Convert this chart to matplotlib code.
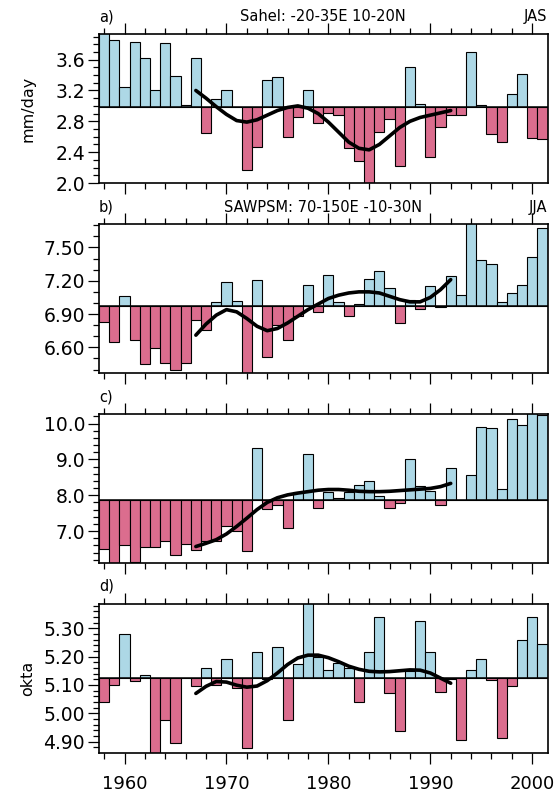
import numpy as np
import matplotlib
matplotlib.use('Agg')
from matplotlib import pyplot as plt
from matplotlib.ticker import MultipleLocator, FormatStrFormatter

years = np.arange(1958, 2002)
smooth_years = np.arange(1967, 1993)

# a) Sahel JAS rainfall (mm/day)
sahel = [3.95, 3.85,
         3.24, 3.83, 3.62, 3.21, 3.81, 3.385, 3.01, 3.615, 2.655, 3.09,
         3.20, 2.99, 2.175, 2.47, 3.335, 3.37, 2.595, 2.855, 3.21, 2.78,
         2.91, 2.88, 2.45, 2.29, 1.98, 2.66, 2.83, 2.225, 3.51, 3.02,
         2.34, 2.73, 2.88, 2.88, 3.705, 3.01, 2.635, 2.53, 3.15, 3.41,
         2.585, 2.575]
sahel_base = 2.988
sahel_smooth = [3.20, 3.10, 2.99, 2.89, 2.81, 2.79, 2.82, 2.88, 2.94, 2.98,
                3.00, 2.97, 2.90, 2.79, 2.66, 2.53, 2.45, 2.43, 2.50, 2.61,
                2.72, 2.80, 2.85, 2.88, 2.91, 2.94]

# b) SAWPSM JJA
sawpsm = [6.825, 6.65,
          7.065, 6.67, 6.45, 6.59, 6.455, 6.395, 6.46, 6.845, 6.76, 7.005,
          7.185, 7.015, 6.35, 7.205, 6.51, 6.805, 6.67, 6.88, 7.165, 6.92,
          7.255, 7.01, 6.88, 6.99, 7.22, 7.285, 7.135, 6.82, 7.03, 6.945,
          7.155, 6.96, 7.24, 7.075, 7.72, 7.39, 7.355, 7.01, 7.09, 7.165,
          7.41, 7.675]
sawpsm_base = 6.972
sawpsm_smooth = [6.71, 6.81, 6.89, 6.94, 6.92, 6.86, 6.79, 6.75, 6.77, 6.82,
                 6.88, 6.94, 6.99, 7.04, 7.07, 7.09, 7.10, 7.10, 7.09, 7.06,
                 7.03, 7.01, 7.01, 7.05, 7.12, 7.21]

# c)
pc = [6.51, 6.10,
      6.61, 6.15, 6.545, 6.565, 6.72, 6.345, 6.63, 6.465, 6.73, 6.715,
      7.15, 6.99, 6.435, 9.305, 7.63, 7.72, 7.075, 8.095, 9.155, 7.64,
      8.085, 7.915, 8.10, 8.295, 8.405, 7.99, 7.64, 7.785, 9.01, 8.27,
      8.13, 7.715, 8.77, 7.87, 8.565, 9.90, 9.87, 8.185, 10.14, 9.97,
      10.30, 10.23]
pc_base = 7.861
pc_smooth = [6.57, 6.66, 6.76, 6.92, 7.13, 7.36, 7.60, 7.80, 7.93, 8.01,
             8.06, 8.10, 8.14, 8.16, 8.16, 8.14, 8.11, 8.10, 8.10, 8.11,
             8.13, 8.15, 8.17, 8.19, 8.24, 8.33]

# d) cloud cover (okta)
okta = [5.04, 5.098,
        5.28, 5.115, 5.134, 4.85, 4.975, 4.894, 5.126, 5.096, 5.158, 5.098,
        5.191, 5.088, 4.876, 5.216, 5.12, 5.233, 4.975, 5.172, 5.40, 5.198,
        5.152, 5.178, 5.159, 5.04, 5.215, 5.34, 5.072, 4.936, 5.15, 5.325,
        5.216, 5.075, 5.12, 4.906, 5.152, 5.191, 5.119, 4.913, 5.095, 5.259,
        5.341, 5.244]
okta_base = 5.126
okta_smooth = [5.07, 5.095, 5.112, 5.110, 5.099, 5.092, 5.096, 5.115, 5.142,
               5.172, 5.195, 5.205, 5.205, 5.196, 5.182, 5.166, 5.155, 5.148,
               5.146, 5.147, 5.150, 5.153, 5.152, 5.142, 5.124, 5.106]

blue = '#ADD8E6'
red = '#DB6D8E'

panels = [
    dict(v=sahel, base=sahel_base, sm=sahel_smooth, lim=(2.0, 3.935),
         major=0.4, minor=0.1, fmt='%.1f', tag='a)',
         title='Sahel: -20-35E 10-20N', season='JAS', ylabel='mm/day'),
    dict(v=sawpsm, base=sawpsm_base, sm=sawpsm_smooth, lim=(6.366, 7.71),
         major=0.3, minor=0.1, fmt='%.2f', tag='b)',
         title='SAWPSM: 70-150E -10-30N', season='JJA', ylabel=''),
    dict(v=pc, base=pc_base, sm=pc_smooth, lim=(6.11, 10.27),
         major=1.0, minor=0.2, fmt='%.1f', tag='c)',
         title='', season='', ylabel=''),
    dict(v=okta, base=okta_base, sm=okta_smooth, lim=(4.861, 5.387),
         major=0.1, minor=0.02, fmt='%.2f', tag='d)',
         title='', season='', ylabel='okta'),
]

bottoms = [0.7701, 0.531, 0.2927, 0.0544]

fig = plt.figure(figsize=(5.56, 7.96), dpi=100)

for p, y0 in zip(panels, bottoms):
    ax = fig.add_axes([0.1781, y0, 0.8067, 0.1874])
    v = np.array(p['v'])
    cols = [blue if x >= p['base'] else red for x in v]
    ax.bar(years, v - p['base'], bottom=p['base'], width=1.0, color=cols,
           edgecolor='black', linewidth=0.8, zorder=2)
    ax.axhline(p['base'], color='black', lw=1.1, zorder=3)
    ax.plot(smooth_years, p['sm'], color='black', lw=2.6,
            solid_capstyle='round', zorder=4)

    ax.set_xlim(1957.5, 2001.5)
    ax.set_ylim(*p['lim'])
    ax.xaxis.set_major_locator(MultipleLocator(10))
    ax.xaxis.set_minor_locator(MultipleLocator(2))
    ax.yaxis.set_major_locator(MultipleLocator(p['major']))
    ax.yaxis.set_minor_locator(MultipleLocator(p['minor']))
    ax.yaxis.set_major_formatter(FormatStrFormatter(p['fmt']))
    ax.tick_params(which='both', direction='out', top=True, bottom=True,
                   left=True, right=False, width=0.9)
    ax.tick_params(which='major', length=8, labelsize=13.5, pad=2)
    ax.tick_params(which='minor', length=4.3)
    ax.tick_params(axis='x', which='major', labelsize=13, pad=8)
    for s in ax.spines.values():
        s.set_linewidth(1.2)

    if p is not panels[-1]:
        ax.tick_params(axis='x', labelbottom=False)

    ax.text(0.0, 1.084, p['tag'], transform=ax.transAxes, ha='left',
            va='baseline', fontsize=10.5)
    if p['title']:
        ax.text(0.5, 1.084, p['title'], transform=ax.transAxes, ha='center',
                va='baseline', fontsize=10.5)
        ax.text(1.0, 1.084, p['season'], transform=ax.transAxes, ha='right',
                va='baseline', fontsize=10.5)
    if p['ylabel']:
        ax.set_ylabel(p['ylabel'], fontsize=11.5)
        ax.yaxis.set_label_coords(-0.142, 0.5)

plt.savefig('out.png', dpi=100)
